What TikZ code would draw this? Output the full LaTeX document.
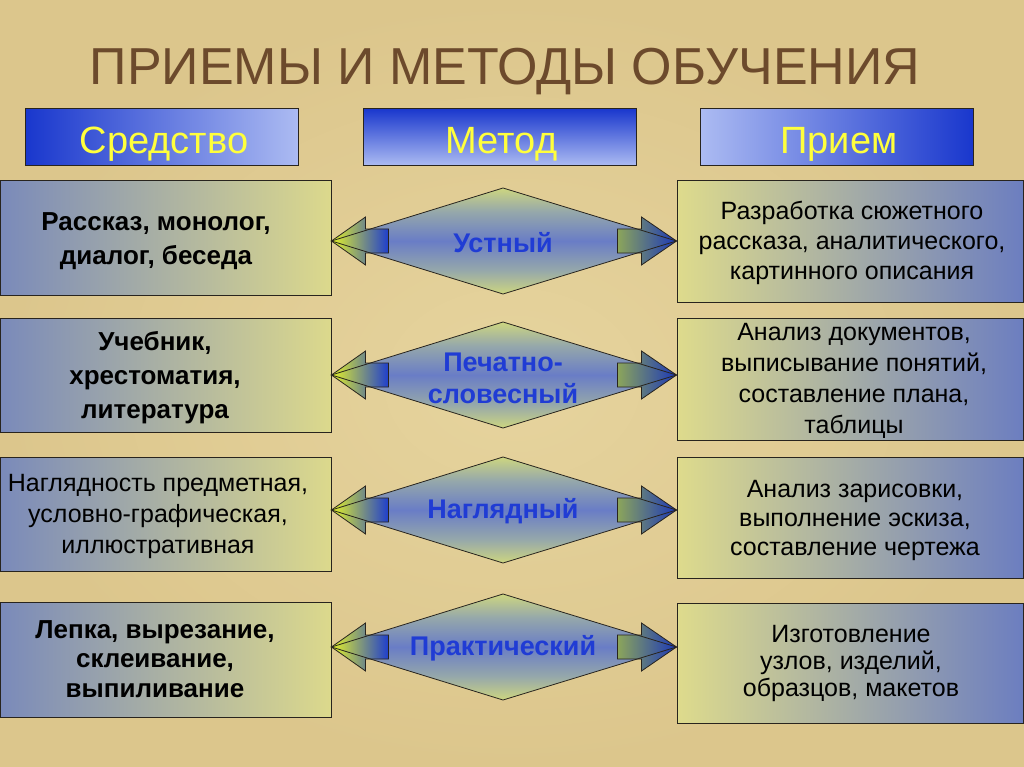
\documentclass[tikz,border=0pt]{standalone}
\usepackage{fontspec}
\setmainfont{Liberation Sans}
\usetikzlibrary{calc}
\definecolor{bgc}{RGB}{230,212,158}
\definecolor{bgd}{RGB}{220,198,140}
\definecolor{lbL}{RGB}{122,138,186}
\definecolor{lbR}{RGB}{220,217,140}
\definecolor{rbL}{RGB}{222,219,140}
\definecolor{rbR}{RGB}{108,126,192}
\definecolor{hdark}{RGB}{25,55,205}
\definecolor{hlight}{RGB}{172,187,242}
\definecolor{dyel}{RGB}{205,214,128}
\definecolor{dmix}{RGB}{150,168,170}
\definecolor{dblu}{RGB}{105,125,198}
\definecolor{ayel}{RGB}{228,242,40}
\definecolor{agrn}{RGB}{140,165,90}
\definecolor{ablu}{RGB}{30,62,205}
\definecolor{mblue}{RGB}{32,60,212}
\definecolor{titlec}{RGB}{108,74,44}
\definecolor{ytext}{RGB}{255,255,60}
\definecolor{edge}{RGB}{40,36,30}
\pgfdeclareverticalshading{dshade}{100bp}{color(0bp)=(dyel); color(25bp)=(dyel); color(36bp)=(dmix); color(50bp)=(dblu); color(64bp)=(dmix); color(75bp)=(dyel); color(100bp)=(dyel)}
\begin{document}
\begin{tikzpicture}[x=1pt,y=-1pt,
  box/.style={draw=edge, line width=1pt, inner sep=0pt},
  lbox/.style={box, left color=lbL, right color=lbR, minimum width=331pt},
  rbox/.style={box, left color=rbL, right color=rbR, minimum width=346pt},
  hbox/.style={box, minimum width=273pt, minimum height=57pt},
  htext/.style={text=ytext, font=\fontsize{38}{38}\selectfont, text height=27pt, text depth=0pt, inner sep=0pt},
  ltext/.style={align=center, font=\bfseries\fontsize{26}{34}\selectfont, inner sep=0pt},
  rtext/.style={align=center, font=\fontsize{25}{30}\selectfont, inner sep=0pt},
  mtext/.style={align=center, text=mblue, font=\bfseries\fontsize{27}{32}\selectfont, inner sep=0pt},
  outl/.style={draw=edge, line width=0.8pt, line join=miter}
]
\useasboundingbox (0,0) rectangle (1024,767);
\shade[inner color=bgc, outer color=bgd] (0,0) rectangle (1024,767);

% title
\node[text=titlec, font=\fontsize{52}{52}\selectfont, text height=37pt, text depth=0pt, inner sep=0pt] (title) at (505,66.5) {ПРИЕМЫ И МЕТОДЫ ОБУЧЕНИЯ};

% headers
\node[hbox, left color=hdark, right color=hlight] (H1) at (162,137) {};
\node[hbox, top color=hdark, bottom color=hlight] (H2) at (499.5,137) {};
\node[hbox, left color=hlight, right color=hdark] (H3) at (837,137) {};
\node[htext] (H1t) at ($(H1)+(2,3)$) {Средство};
\node[htext] (H2t) at ($(H2)+(2,3)$) {Метод};
\node[htext] (H3t) at ($(H3)+(2,3)$) {Прием};

% left boxes
\node[lbox, minimum height=114pt] (L1) at (165.5,238) {};
\node[lbox, minimum height=114pt] (L2) at (165.5,375) {};
\node[lbox, minimum height=114pt] (L3) at (165.5,514) {};
\node[lbox, minimum height=115pt] (L4) at (165.5,659.5) {};
% right boxes
\node[rbox, minimum height=121pt] (R1) at (850,241.5) {};
\node[rbox, minimum height=122pt] (R2) at (850,379) {};
\node[rbox, minimum height=121pt] (R3) at (850,517.5) {};
\node[rbox, minimum height=120pt] (R4) at (850,663) {};

% diamond centres
\coordinate (D1) at (503,241);
\coordinate (D2) at (503,375);
\coordinate (D3) at (503,510);
\coordinate (D4) at (503,647);

\newcommand{\methodrow}[1]{%
  \coordinate (tl#1) at (L#1.east |- D#1);
  \coordinate (tr#1) at (R#1.west |- D#1);
  \shade[shading=dshade]
    (tl#1) -- ($(D#1)+(0,-53)$) -- (tr#1) -- ($(D#1)+(0,53)$) -- cycle;
  \shadedraw[left color=ayel, middle color=agrn, right color=ablu, outl]
    (tl#1) -- ($(tl#1)+(34,-24)$) -- ($(tl#1)+(34,-12)$) -- ($(tl#1)+(57,-12)$)
    -- ($(tl#1)+(57,12)$) -- ($(tl#1)+(34,12)$) -- ($(tl#1)+(34,24)$) -- cycle;
  \shadedraw[left color=agrn, middle color=agrn!70!ablu, right color=ablu!90!black, outl]
    (tr#1) -- ($(tr#1)+(-35,-24)$) -- ($(tr#1)+(-35,-12)$) -- ($(tr#1)+(-59,-12)$)
    -- ($(tr#1)+(-59,12)$) -- ($(tr#1)+(-35,12)$) -- ($(tr#1)+(-35,24)$) -- cycle;
  \draw[outl] (tl#1) -- ($(D#1)+(0,-53)$) -- (tr#1) -- ($(D#1)+(0,53)$) -- cycle;
}
\methodrow{1}
\methodrow{2}
\methodrow{3}
\methodrow{4}

% method labels
\node[mtext] (M1) at (503,243) {Устный};
\node[mtext] (M2) at (503,378) {Печатно-\\словесный};
\node[mtext] (M3) at (503,511) {Наглядный};
\node[mtext] (M4) at (503,648) {Практический};

% left texts
\node[ltext] (T1) at (156,241) {Рассказ, монолог,\\диалог, беседа};
\node[ltext] (T2) at (155,378) {Учебник,\\хрестоматия,\\литература};
\node[align=center, font=\fontsize{25}{31}\selectfont, inner sep=0pt] (T3) at (158,516) {Наглядность предметная,\\условно-графическая,\\иллюстративная};
\node[ltext, font=\bfseries\fontsize{26}{29.5}\selectfont] (T4) at (155,659) {Лепка, вырезание,\\склеивание,\\выпиливание};

% right texts
\node[rtext] (S1) at (852,243) {Разработка сюжетного\\рассказа, аналитического,\\картинного описания};
\node[rtext, font=\fontsize{25}{31}\selectfont] (S2) at (854,381) {Анализ документов,\\выписывание понятий,\\составление плана,\\таблицы};
\node[rtext, font=\fontsize{25}{29}\selectfont] (S3) at (855,520) {Анализ зарисовки,\\выполнение эскиза,\\составление чертежа};
\node[rtext, font=\fontsize{25}{27}\selectfont] (S4) at (851,663) {Изготовление\\узлов, изделий,\\образцов, макетов};
\end{tikzpicture}
\end{document}
